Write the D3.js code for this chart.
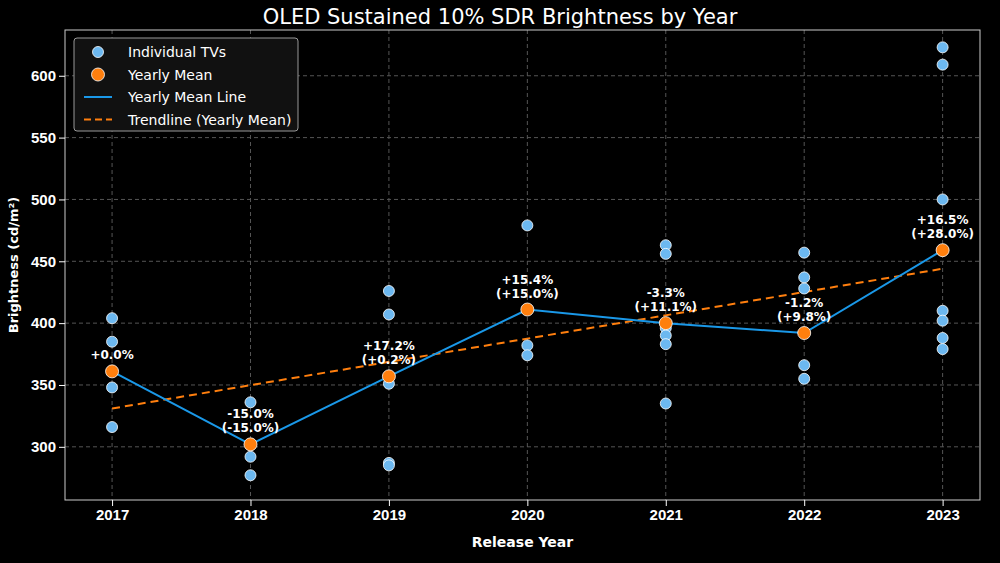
<!DOCTYPE html><html><head><meta charset="utf-8"><script src="https://cdn.jsdelivr.net/npm/d3@7"></script>
<style>body{margin:0;background:#000}svg{font-family:"DejaVu Sans",sans-serif}</style></head><body><svg id="c" width="1000" height="563"></svg>
<script>
const years=[2017,2018,2019,2020,2021,2022,2023];
const tvValues=[[404,385,348,316],[336,292,277],[426,407,351,287,285],[479,382,374],[463,456,396,390,383,335],[457,437,428,366,355],[623,609,500,410,402,388,379]];
const yearlyMean=[361,302,357,411,400,392,459];
const yoyLabels=["+0.0%","-15.0%","+17.2%","+15.4%","-3.3%","-1.2%","+16.5%"];
const baseLabels=[null,"(-15.0%)","(+0.2%)","(+15.0%)","(+11.1%)","(+9.8%)","(+28.0%)"];
const trend=[331,444];
const yTicks=[300,350,400,450,500,550,600];
const svg=d3.select("#c");
const L=65,R=980,T=30,B=500;
const x=d3.scaleLinear().domain([2016.66,2023.27]).range([L,R]);
const y=d3.scaleLinear().domain([257,637]).range([B,T]);
const g=svg.append("g");
yTicks.forEach(t=>g.append("line").attr("x1",L).attr("x2",R).attr("y1",y(t)).attr("y2",y(t)).attr("stroke","#555").attr("stroke-dasharray","4,3"));
years.forEach(t=>g.append("line").attr("y1",T).attr("y2",B).attr("x1",x(t)).attr("x2",x(t)).attr("stroke","#555").attr("stroke-dasharray","4,3"));
g.append("rect").attr("x",L).attr("y",T).attr("width",R-L).attr("height",B-T).attr("fill","none").attr("stroke","#ccc");
const xa=svg.append("g").attr("transform",`translate(0,${B})`).call(d3.axisBottom(x).tickValues(years).tickFormat(d3.format("d")).tickSizeOuter(0));
const ya=svg.append("g").attr("transform",`translate(${L},0)`).call(d3.axisLeft(y).tickValues(yTicks).tickSizeOuter(0));
[xa,ya].forEach(a=>{a.select(".domain").remove();a.selectAll("line").attr("stroke","#fff");a.selectAll("text").attr("fill","#fff").attr("font-size",15).attr("font-weight","bold");});
const pts=[];years.forEach((yr,i)=>tvValues[i].forEach(v=>pts.push([yr,v])));
svg.append("line").attr("x1",x(2017)).attr("x2",x(2023)).attr("y1",y(trend[0])).attr("y2",y(trend[1])).attr("stroke","#ff7f0e").attr("stroke-width",2).attr("stroke-dasharray","8,5");
svg.selectAll(".tv").data(pts).join("circle").attr("cx",d=>x(d[0])).attr("cy",d=>y(d[1])).attr("r",5.5).attr("fill","#6cb8f0").attr("stroke","#fff").attr("stroke-width",0.8);
svg.append("path").attr("d",d3.line().x((d,i)=>x(years[i])).y(d=>y(d))(yearlyMean)).attr("fill","none").attr("stroke","#1a98e8").attr("stroke-width",2);
svg.selectAll(".mn").data(yearlyMean).join("circle").attr("cx",(d,i)=>x(years[i])).attr("cy",d=>y(d)).attr("r",6.5).attr("fill","#ff7f0e").attr("stroke","#fff").attr("stroke-width",0.8);
yearlyMean.forEach((m,i)=>{
 const t=svg.append("text").attr("fill","#fff").attr("font-size",12).attr("font-weight","bold").attr("text-anchor","middle");
 if(baseLabels[i]){t.append("tspan").attr("x",x(years[i])).attr("y",y(m)-26).text(yoyLabels[i]);t.append("tspan").attr("x",x(years[i])).attr("y",y(m)-12).text(baseLabels[i]);}
 else t.attr("x",x(years[i])).attr("y",y(m)-12).text(yoyLabels[i]);
});
svg.append("text").attr("x",500).attr("y",24).attr("text-anchor","middle").attr("fill","#fff").attr("font-size",21).text("OLED Sustained 10% SDR Brightness by Year");
svg.append("text").attr("x",(L+R)/2).attr("y",547).attr("text-anchor","middle").attr("fill","#fff").attr("font-size",14).attr("font-weight","bold").text("Release Year");
svg.append("text").attr("transform",`translate(18,${(T+B)/2}) rotate(-90)`).attr("text-anchor","middle").attr("fill","#fff").attr("font-size",13).attr("font-weight","bold").text("Brightness (cd/m²)");
const lg=svg.append("g");
lg.append("rect").attr("x",74).attr("y",38).attr("width",224).attr("height",93).attr("rx",3).attr("fill","#111").attr("stroke","#999");
const items=["Individual TVs","Yearly Mean","Yearly Mean Line","Trendline (Yearly Mean)"];
items.forEach((s,i)=>{const yy=52+i*22.5;
 if(i==0)lg.append("circle").attr("cx",98).attr("cy",yy).attr("r",5.5).attr("fill","#6cb8f0").attr("stroke","#fff").attr("stroke-width",0.8);
 if(i==1)lg.append("circle").attr("cx",98).attr("cy",yy).attr("r",6.5).attr("fill","#ff7f0e").attr("stroke","#fff").attr("stroke-width",0.8);
 if(i==2)lg.append("line").attr("x1",84).attr("x2",112).attr("y1",yy).attr("y2",yy).attr("stroke","#1a98e8").attr("stroke-width",2);
 if(i==3)lg.append("line").attr("x1",84).attr("x2",112).attr("y1",yy).attr("y2",yy).attr("stroke","#ff7f0e").attr("stroke-width",2).attr("stroke-dasharray","7,4");
 lg.append("text").attr("x",128).attr("y",yy+5).attr("fill","#fff").attr("font-size",14).text(s);});
</script></body></html>
